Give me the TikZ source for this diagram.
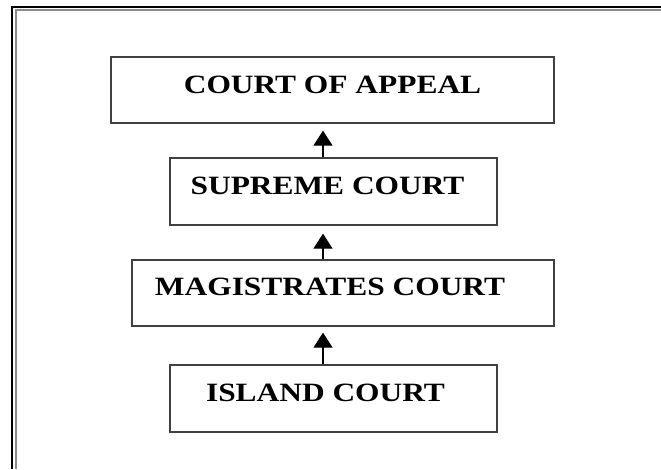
\documentclass[tikz,border=0pt]{standalone}
\usepackage{fontspec}
\usepackage{tikz}
\usetikzlibrary{arrows.meta}
\newfontfamily\courtfont[FakeStretch=1.19]{Liberation Serif}

\tikzset{
	court/.style={draw=black!75, line width=1.3pt, inner sep=0pt},
	courttext/.style={anchor=base, inner sep=0pt, font=\courtfont\bfseries\fontsize{26.4}{30}\selectfont},
	appealto/.style={line width=1.3pt, -{Triangle[length=15pt, width=19pt]}}
}

\begin{document}
\begin{tikzpicture}[x=1pt, y=-1pt]
		\useasboundingbox (0, 0) rectangle (661, 469);
		% page frame
		\draw[line width=2pt] (661, 7) -| (12, 469);
		\draw[line width=1.4pt, black!45] (661, 10) -| (15.8, 469);
		% courts
		\node[court, minimum width=443pt, minimum height=66pt] (appeal) at (332.5, 90) {};
		\node[court, minimum width=327pt, minimum height=67pt] (supreme) at (333.5, 191.5) {};
		\node[court, minimum width=422pt, minimum height=66pt] (magistrates) at (343, 293) {};
		\node[court, minimum width=327pt, minimum height=67pt] (island) at (333.5, 398.5) {};
		\node[courttext] (appealtext) at ([yshift=-3.3pt]appeal.center) {COURT OF APPEAL};
		\node[courttext] (supremetext) at ([xshift=-6pt, yshift=-2.5pt]supreme.center) {SUPREME COURT};
		\node[courttext] (magistratestext) at ([xshift=-13pt, yshift=-2pt]magistrates.center) {MAGISTRATES COURT};
		\node[courttext] (islandtext) at ([xshift=-8pt, yshift=-3pt]island.center) {ISLAND COURT};
		% appeals
		\coordinate (axis) at (323, 0);
		\draw[appealto] (island.north -| axis) -- ([yshift=-6pt]magistrates.south -| axis);
		\draw[appealto] (magistrates.north -| axis) -- ([yshift=-8pt]supreme.south -| axis);
		\draw[appealto] (supreme.north -| axis) -- ([yshift=-7pt]appeal.south -| axis);
	\end{tikzpicture}
\end{document}
